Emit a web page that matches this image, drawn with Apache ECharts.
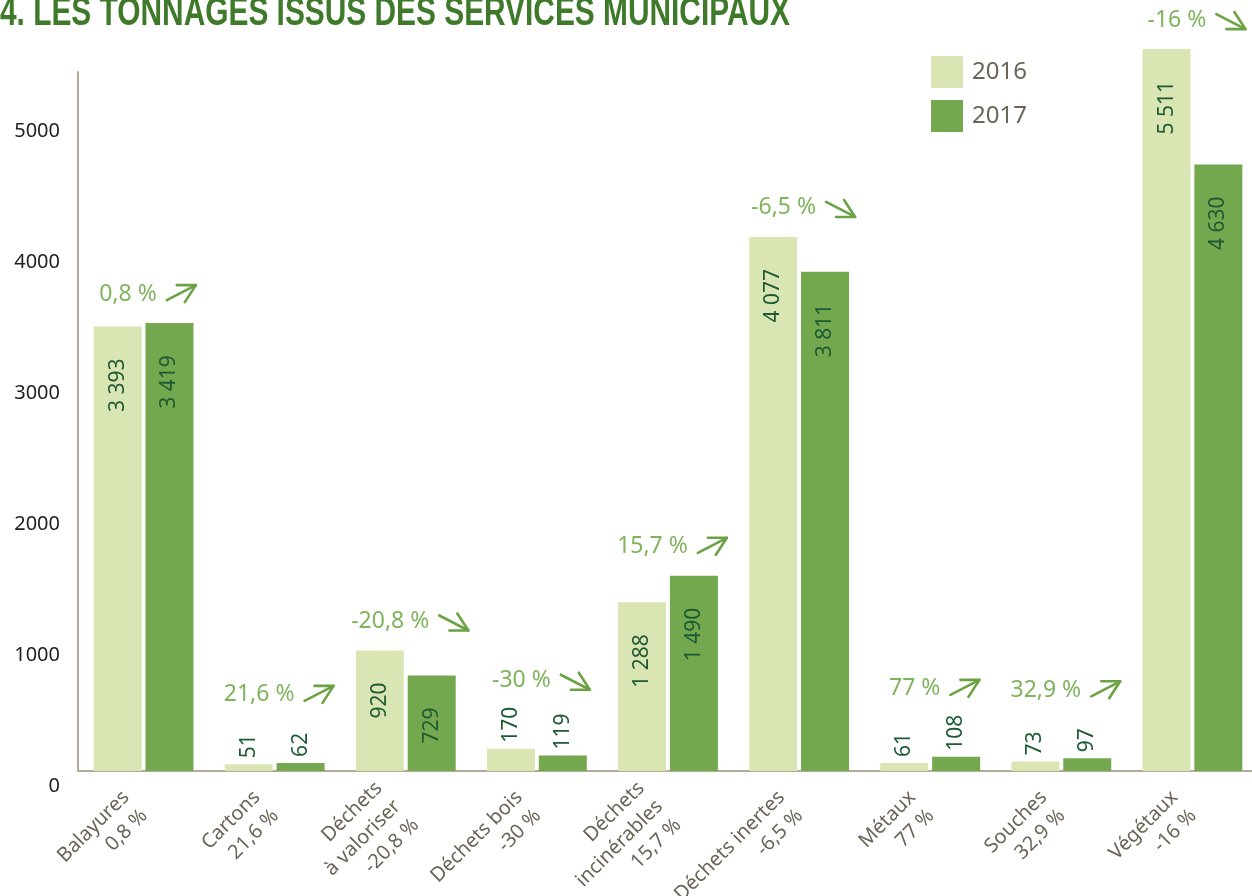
<!DOCTYPE html>
<html>
<head>
<meta charset="UTF-8">
<title>Tonnages services municipaux</title>
<script src="https://cdn.jsdelivr.net/npm/echarts@6.0.0/dist/echarts.min.js"></script>
<style>
  html, body { margin: 0; padding: 0; background: #fff; }
  #main { width: 1252px; height: 896px; }
</style>
</head>
<body>
<div id="main"></div>
<script>
// donnees
var categories = ['Balayures', 'Cartons', 'Déchets\nà valoriser', 'Déchets bois', 'Déchets\nincinérables',
                  'Déchets inertes', 'Métaux', 'Souches', 'Végétaux'];
var evolution = ['0,8 %', '21,6 %', '-20,8 %', '-30 %', '15,7 %', '-6,5 %', '77 %', '32,9 %', '-16 %'];
var tonnes2016 = [3393, 51, 920, 170, 1288, 4077, 61, 73, 5511];
var tonnes2017 = [3419, 62, 729, 119, 1490, 3811, 108, 97, 4630];
var yTicks = [0, 1000, 2000, 3000, 4000, 5000];

var FONT = "'Noto Sans', sans-serif";
var PCT_SIZE = 23;
var TITLE = '4. LES TONNAGES ISSUS DES SERVICES MUNICIPAUX';
var TITLE_FONT = "bold 40px 'Liberation Sans', sans-serif";

function fmt(v) {
  return String(v).replace(/\B(?=(\d{3})+(?!\d))/g, ' ');
}

// etiquettes dans la barre, ou au-dessus si la barre est trop petite
function barData(values) {
  return values.map(function (v) {
    var small = v < 300;
    return {
      value: v,
      label: small
        ? { position: 'top', distance: 6, align: 'left' }
        : { position: 'insideTop', distance: 32, align: 'right' }
    };
  });
}

var ctx = document.createElement('canvas').getContext('2d');
ctx.font = TITLE_FONT;
var titleScale = 790 / ctx.measureText(TITLE).width;
ctx.font = PCT_SIZE + 'px ' + FONT;

var myChart = echarts.init(document.getElementById('main'));

var barLabel = {
  show: true,
  rotate: 90,
  verticalAlign: 'middle',
  color: '#1d5a33',
  fontSize: 21,
  fontFamily: FONT,
  formatter: function (p) { return fmt(p.value); }
};

myChart.setOption({
  backgroundColor: '#ffffff',
  animation: false,
  graphic: [{
    type: 'text',
    x: 0,
    y: -6,
    scaleX: titleScale,
    silent: true,
    style: {
      text: TITLE,
      font: TITLE_FONT,
      fill: '#3f7a2a',
      align: 'left',
      verticalAlign: 'top'
    }
  }],
  legend: {
    data: ['2016', '2017'],
    orient: 'vertical',
    left: 931,
    top: 56,
    padding: 0,
    itemWidth: 32,
    itemHeight: 32,
    itemGap: 12,
    icon: 'rect',
    textStyle: { fontFamily: FONT, fontSize: 24, color: '#6b6558', padding: [0, 0, 0, 4] }
  },
  grid: { left: 78, top: 72, width: 1180, height: 699, containLabel: false, outerBoundsMode: 'none' },
  xAxis: {
    type: 'category',
    data: categories,
    axisTick: { show: false },
    axisLine: { lineStyle: { color: '#b5aa98', width: 2 } },
    axisLabel: {
      rotate: 45,
      margin: 24,
      interval: 0,
      hideOverlap: false,
      color: '#6b6558',
      fontFamily: FONT,
      fontSize: 20,
      lineHeight: 26,
      padding: [0, 12, 0, 0],
      formatter: function (value, idx) { return value + '\n' + evolution[idx]; }
    }
  },
  yAxis: {
    type: 'value',
    min: yTicks[0],
    max: 5336,
    interval: yTicks[1] - yTicks[0],
    splitLine: { show: false },
    axisTick: { show: false },
    axisLine: { show: true, lineStyle: { color: '#b5aa98', width: 2 } },
    axisLabel: {
      showMaxLabel: false,
      margin: 18,
      color: '#222',
      fontFamily: FONT,
      fontSize: 20,
      verticalAlign: 'top',
      padding: [5, 0, 0, 0],
      formatter: function (v) { return String(v); }
    }
  },
  series: [
    {
      name: '2016',
      type: 'bar',
      barWidth: 48,
      barGap: '8%',
      clip: false,
      itemStyle: { color: '#d9e6b3' },
      label: barLabel,
      data: barData(tonnes2016)
    },
    {
      name: '2017',
      type: 'bar',
      barWidth: 48,
      clip: false,
      itemStyle: { color: '#73a84f' },
      label: barLabel,
      data: barData(tonnes2017)
    },
    {
      // evolution en % avec une fleche au-dessus de chaque paire
      type: 'custom',
      clip: false,
      silent: true,
      z: 10,
      data: categories.map(function (c, i) {
        return [i, Math.max(tonnes2016[i], tonnes2017[i])];
      }),
      renderItem: function (params, api) {
        var i = api.value(0);
        var top = api.value(1);
        var p = api.coord([i, top]);
        var y = p[1] - (top < 300 ? 68 : 29);
        var txt = evolution[i];
        var w = ctx.measureText(txt).width;
        var total = w + 10 + 29;
        var x0 = p[0] - total / 2 + 4;
        var tipX = x0 + total;
        var up = txt.charAt(0) !== '-';
        var tipY = up ? y - 9 : y + 9;
        var s = up ? 1 : -1;
        var arrowStyle = { stroke: '#6ba344', lineWidth: 2.6, fill: null, lineCap: 'round', lineJoin: 'round' };
        return {
          type: 'group',
          children: [
            {
              type: 'text',
              style: {
                x: x0, y: y, text: txt,
                fill: '#7fb45c', font: PCT_SIZE + 'px ' + FONT,
                align: 'left', verticalAlign: 'middle'
              }
            },
            {
              type: 'polyline',
              shape: { points: [[tipX - 29, tipY + 15 * s], [tipX, tipY]] },
              style: arrowStyle
            },
            {
              type: 'polyline',
              shape: { points: [[tipX - 19, tipY], [tipX, tipY], [tipX - 11, tipY + 17 * s]] },
              style: arrowStyle
            }
          ]
        };
      }
    }
  ]
});
</script>
</body>
</html>
